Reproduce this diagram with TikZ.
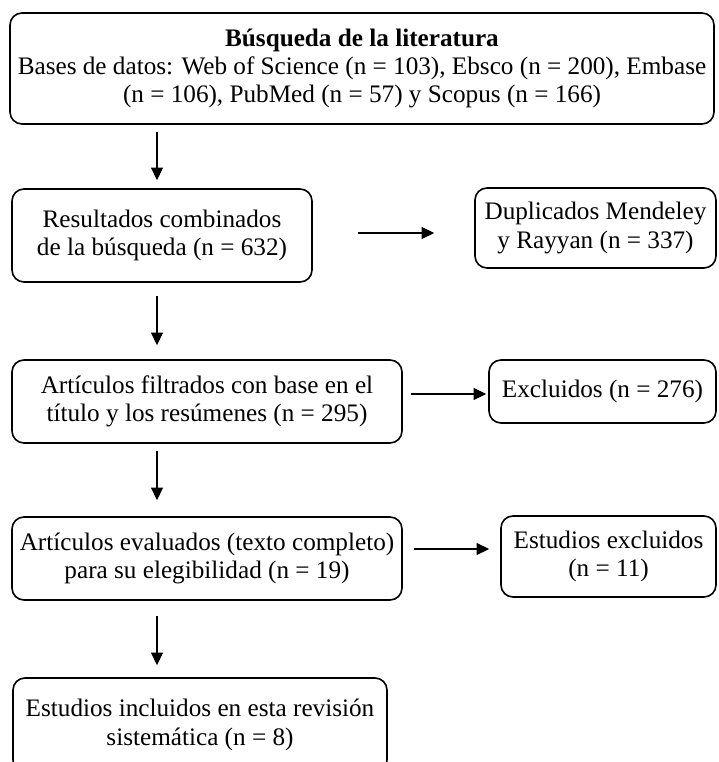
\documentclass[tikz,border=0pt]{standalone}
\usepackage{fontspec}
\setmainfont{Liberation Serif}
\usetikzlibrary{arrows.meta}
\begin{document}
\begin{tikzpicture}[x=0.75pt,y=-0.75pt,
  box/.style={draw, line width=1.2pt, rounded corners=9pt, inner sep=0pt, align=center, font=\fontsize{18.9}{21.3}\selectfont},
  arr/.style={line width=0.85pt, -{Triangle[length=9.5pt,width=9pt]}}]
\useasboundingbox (0,0) rectangle (718,762);
\clip (0,0) rectangle (718,762);
\node[box, minimum width=528pt, minimum height=83.25pt] (b1) at (362,68.5)
  {\textbf{Búsqueda de la literatura}\\Bases de datos: Web of Science (n = 103), Ebsco (n = 200), Embase\\(n = 106), PubMed (n = 57) y Scopus (n = 166)};
\node[box, minimum width=225pt, minimum height=69.75pt] (b2) at (162,235.5)
  {Resultados combinados\\de la búsqueda (n = 632)};
\node[box, minimum width=180.75pt, minimum height=60pt] (b3) at (595.5,228)
  {Duplicados Mendeley\\y Rayyan (n = 337)};
\node[box, minimum width=292.5pt, minimum height=62.25pt] (b4) at (207,401.5)
  {Artículos filtrados con base en el\\título y los resúmenes (n = 295)};
\node[box, minimum width=170.25pt, minimum height=47.25pt] (b5) at (602.5,391.5)
  {Excluidos (n = 276)};
\node[box, minimum width=292.5pt, minimum height=62.25pt] (b6) at (207,558.5)
  {Artículos evaluados (texto completo)\\para su elegibilidad (n = 19)};
\node[box, minimum width=161.25pt, minimum height=60.75pt] (b7) at (608.5,556.5)
  {Estudios excluidos\\(n = 11)};
\node[box, minimum width=280.5pt, minimum height=70.5pt] (b8) at (200,725)
  {Estudios incluidos en esta revisión\\sistemática (n = 8)};
\coordinate (vx) at (157,0);
\coordinate (h1) at (0,233);
\coordinate (h2) at (0,394);
\coordinate (h3) at (0,549);
\draw[arr, shorten <=5.25pt, shorten >=6pt] (b1.south -| vx) -- (b2.north -| vx);
\draw[arr, shorten <=9.75pt, shorten >=10.5pt] (b2.south -| vx) -- (b4.north -| vx);
\draw[arr, shorten <=5.25pt, shorten >=12pt] (b4.south -| vx) -- (b6.north -| vx);
\draw[arr, shorten <=11.25pt, shorten >=9pt] (b6.south -| vx) -- (b8.north -| vx);
\draw[arr, shorten <=33.75pt, shorten >=30pt] (b2.east |- h1) -- (b3.west |- h1);
\draw[arr, shorten <=6pt, shorten >=1.5pt] (b4.east |- h2) -- (b5.west |- h2);
\draw[arr, shorten <=8.25pt, shorten >=8.25pt] (b6.east |- h3) -- (b7.west |- h3);
\end{tikzpicture}
\end{document}
